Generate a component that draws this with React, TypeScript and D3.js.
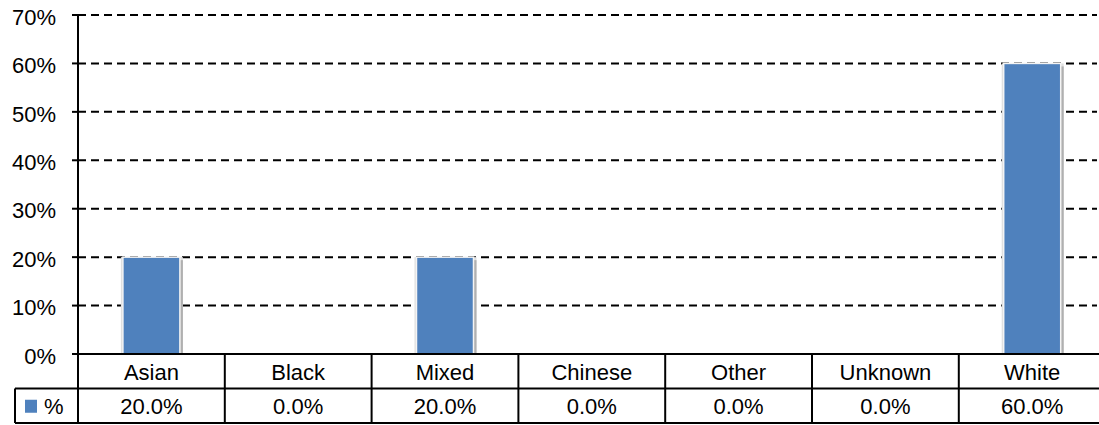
import React from "react";
import * as d3 from "d3";

const categories = ["Asian", "Black", "Mixed", "Chinese", "Other", "Unknown", "White"];
const values = [20, 0, 20, 0, 0, 0, 60];
const yTicks = [0, 10, 20, 30, 40, 50, 60, 70];
const seriesName = "%";

export default function App() {
  const W = 1099, H = 425;
  const left = 78, right = 78 + 7 * 146.8, top = 15, bottom = 354;
  const rowH = 34.5;
  const legendLeft = 15;
  const x = d3.scaleBand<string>().domain(categories).range([left, right]).paddingInner(0).paddingOuter(0);
  const y = d3.scaleLinear().domain([0, 70]).range([bottom, top]);
  const bw = 57;
  const font = "'Liberation Sans', Arial, sans-serif";
  const blue = "#4F81BD";
  const fs = 22;
  return (
    <svg width={W} height={H} style={{ position: "absolute", left: 0, top: 0, fontFamily: font }}>
      {yTicks.map((t) => (
        <g key={t}>
          {t > 0 && (
            <line x1={left} x2={1097} y1={y(t)} y2={y(t)} stroke="#000" strokeWidth={2} strokeDasharray="8,5" />
          )}
          <line x1={left - 6} x2={left} y1={y(t)} y2={y(t)} stroke="#000" strokeWidth={2} />
          <text x={56} y={y(t) + 2} dy="0.35em" textAnchor="end" fontSize={fs} fill="#000">{t}%</text>
        </g>
      ))}
      {categories.map((c, i) => {
        const v = values[i];
        if (v <= 0) return null;
        const cx = x(c)! + x.bandwidth() / 2;
        const bx = cx - bw / 2;
        const by = y(v);
        const bh = bottom - by;
        return (
          <g key={c}>
            <rect x={bx - 2} y={by} width={bw + 5} height={bh} fill="#e0e0e0" />
            <rect x={bx + bw} y={by + 3} width={3} height={bh - 3} fill="#b0b0b0" />
            <rect x={bx} y={by} width={bw} height={bh} fill={blue} stroke="#f4f4f4" strokeWidth={1.5} />
          </g>
        );
      })}
      <line x1={left} x2={left} y1={top} y2={bottom + rowH * 2} stroke="#000" strokeWidth={2} />
      {/* data table */}
      <line x1={left} x2={right} y1={bottom} y2={bottom} stroke="#000" strokeWidth={2} />
      <line x1={legendLeft} x2={right} y1={bottom + rowH} y2={bottom + rowH} stroke="#000" strokeWidth={2} />
      <line x1={legendLeft} x2={right} y1={bottom + rowH * 2} y2={bottom + rowH * 2} stroke="#000" strokeWidth={2} />
      <line x1={legendLeft} x2={legendLeft} y1={bottom + rowH} y2={bottom + rowH * 2} stroke="#000" strokeWidth={2} />
      {categories.map((c, i) => {
        const x0 = x(c)!;
        const cx = x0 + x.bandwidth() / 2;
        return (
          <g key={"t" + c}>
            {i > 0 && <line x1={x0} x2={x0} y1={bottom} y2={bottom + rowH * 2} stroke="#000" strokeWidth={2} />}
            <text x={cx} y={bottom + rowH / 2 + 1} dy="0.35em" textAnchor="middle" fontSize={fs} fill="#000">{c}</text>
            <text x={cx} y={bottom + rowH * 1.5 + 1} dy="0.35em" textAnchor="middle" fontSize={fs} fill="#000">{values[i].toFixed(1)}%</text>
          </g>
        );
      })}
      <rect x={25} y={bottom + rowH * 1.5 - 6} width={12} height={13} fill={blue} />
      <text x={44} y={bottom + rowH * 1.5 + 1} dy="0.35em" fontSize={fs} fill="#000">{seriesName}</text>
    </svg>
  );
}
